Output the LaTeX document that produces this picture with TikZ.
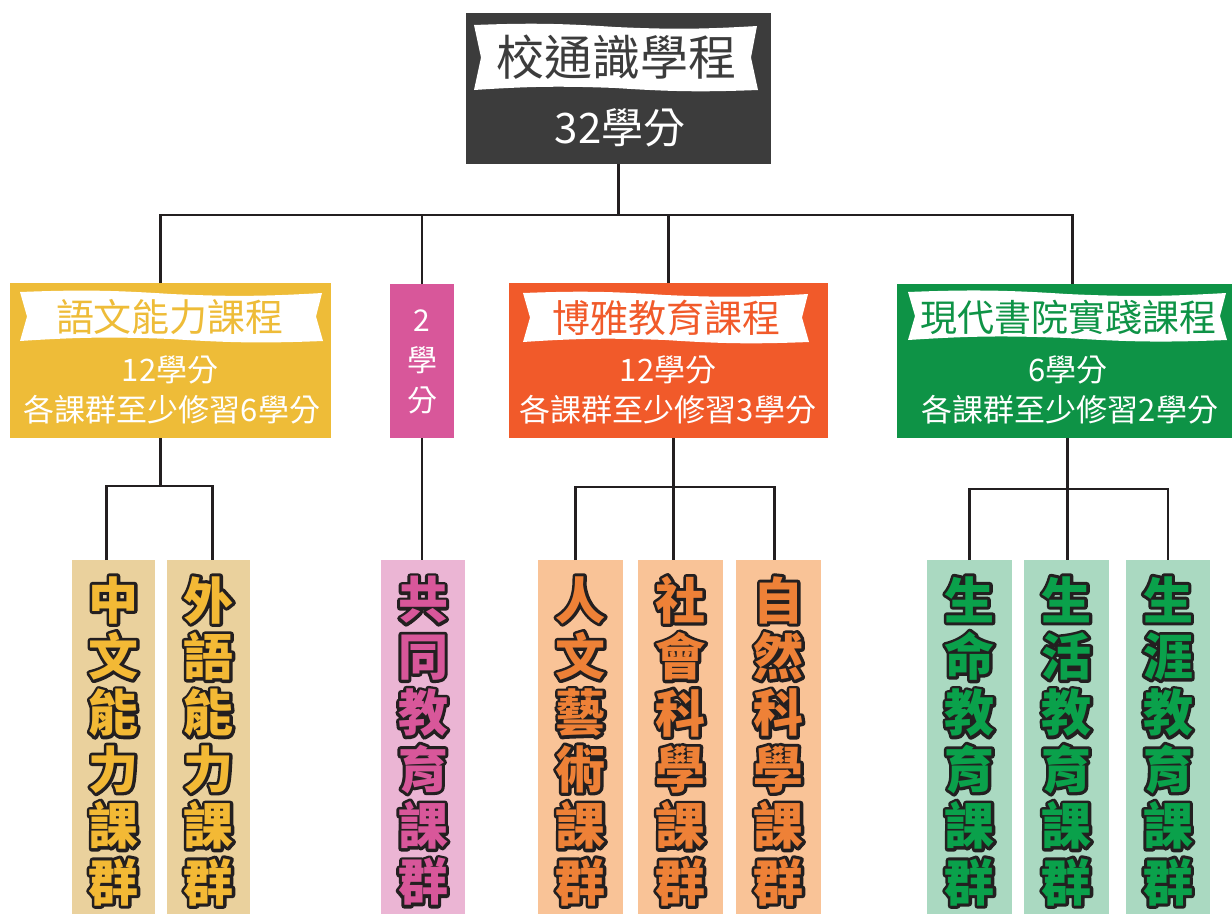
\documentclass[tikz,border=0pt]{standalone}
\usepackage{fontspec}
\setmainfont{Noto Sans CJK TC}
\usetikzlibrary{calc}
\definecolor{dk}{HTML}{231F20}
\definecolor{topgray}{HTML}{3C3C3C}
\definecolor{cy}{HTML}{EEBC38}
\definecolor{cp}{HTML}{D8579A}
\definecolor{co}{HTML}{F15A2A}
\definecolor{cg}{HTML}{0E9346}
\definecolor{ly}{HTML}{EAD19D}
\definecolor{lp}{HTML}{EBB5D4}
\definecolor{lo}{HTML}{F9C397}
\definecolor{lg}{HTML}{AAD9C1}
\definecolor{ty}{HTML}{F3B935}
\definecolor{tp}{HTML}{D8579A}
\definecolor{to}{HTML}{EE8137}
\definecolor{tg}{HTML}{0AA14B}
% outlined glyph: a stroked copy (text render mode 2) under the filled glyph
\newcommand\oc[1]{\rlap{\special{pdf:literal direct 2 Tr 6 w 1 j 1 J 0.137 0.122 0.125 RG}#1\special{pdf:literal direct 0 Tr 1 w}}#1}
\newcommand\ribbon[4]{%
  \pgfmathsetmacro\rbx{(#1+#3)/2}%
  \pgfmathsetmacro\rby{(#2+#4)/2}%
  \fill[white] (#1,#2) to[bend left=3] (\rbx,#2+2) to[bend right=3] (#3,#2+1)
    -- (#3-6,\rby) -- (#3+1,#4) to[bend left=3] (\rbx,#4-2) to[bend right=3] (#1,#4)
    -- (#1+7,\rby) -- cycle;}
\tikzset{
  box/.style={rectangle, inner sep=0pt, outer sep=0pt, draw=none},
  conn/.style={draw=dk, line width=2.6pt},
  lbl/.style={inner sep=0pt, text=white, font=\fontsize{31}{31}\selectfont},
  ttl/.style={inner sep=0pt, font=\fontsize{38}{38}\selectfont},
  vtxt/.style={inner sep=0pt, align=center, font=\fontsize{50}{56.4}\selectfont\bfseries},
  leaf/.style={box, minimum width=84pt, minimum height=354pt}
}
\begin{document}
\begin{tikzpicture}[x=1pt, y=-1pt]
\useasboundingbox (0,0) rectangle (1232,914);
% top
\node[box, fill=topgray, minimum width=305pt, minimum height=151pt] (top) at (618.5,88.5) {};
\ribbon{474}{25}{757}{90}
\node[ttl, text=topgray, font=\fontsize{48}{48}\selectfont] (toptitle) at (616,57) {校通識學程};
\node[lbl, font=\fontsize{42}{42}\selectfont] (topcred) at (620,128) {32學分};
% level 2
\node[box, fill=cy, minimum width=321pt, minimum height=155pt] (yel) at (170.5,360.5) {};
\ribbon{20}{292}{322}{341}
\node[ttl, text=cy] (yeltitle) at (170,317) {語文能力課程};
\node[lbl] (yelc1) at (170,370) {12學分};
\node[lbl] (yelc2) at (172,410) {各課群至少修習6學分};

\node[box, fill=cp, minimum width=64pt, minimum height=154pt] (pink) at (422,361) {};
\node[lbl, align=center, font=\fontsize{30}{40}\selectfont] (pinkc) at (422,362) {2\\學\\分};

\node[box, fill=co, minimum width=319pt, minimum height=155pt] (org) at (668.5,360.5) {};
\ribbon{523}{293}{808}{342}
\node[ttl, text=co] (orgtitle) at (666,318) {博雅教育課程};
\node[lbl] (orgc1) at (668,370) {12學分};
\node[lbl] (orgc2) at (668,410) {各課群至少修習3學分};

\node[box, fill=cg, minimum width=335pt, minimum height=154pt] (grn) at (1064.5,361) {};
\ribbon{908}{292}{1226}{340}
\node[ttl, text=cg, font=\fontsize{37}{37}\selectfont] (grntitle) at (1068,317) {現代書院實踐課程};
\node[lbl] (grnc1) at (1068,370) {6學分};
\node[lbl] (grnc2) at (1070,410) {各課群至少修習2學分};

% leaves
\node[leaf, fill=ly, minimum width=83pt] (zw) at (113.5,737) {};
\node[leaf, fill=ly, minimum width=83pt] (wy) at (208.5,737) {};
\node[leaf, fill=lp] (gt) at (423,737) {};
\node[leaf, fill=lo, minimum width=85pt] (rw) at (580.5,737) {};
\node[leaf, fill=lo, minimum width=85pt] (sh) at (680.5,737) {};
\node[leaf, fill=lo, minimum width=85pt] (zr) at (778.5,737) {};
\node[leaf, fill=lg, minimum width=85pt] (sm) at (969.5,737) {};
\node[leaf, fill=lg, minimum width=85pt] (sho) at (1066.5,737) {};
\node[leaf, fill=lg, minimum width=84pt] (sy) at (1168,737) {};

\node[vtxt, text=ty] (zwt) at (113.5,741) {\oc{中}\\\oc{文}\\\oc{能}\\\oc{力}\\\oc{課}\\\oc{群}};
\node[vtxt, text=ty] (wyt) at (208.5,741) {\oc{外}\\\oc{語}\\\oc{能}\\\oc{力}\\\oc{課}\\\oc{群}};
\node[vtxt, text=tp] (gtt) at (423,741) {\oc{共}\\\oc{同}\\\oc{教}\\\oc{育}\\\oc{課}\\\oc{群}};
\node[vtxt, text=to] (rwt) at (580.5,741) {\oc{人}\\\oc{文}\\\oc{藝}\\\oc{術}\\\oc{課}\\\oc{群}};
\node[vtxt, text=to] (sht) at (680.5,741) {\oc{社}\\\oc{會}\\\oc{科}\\\oc{學}\\\oc{課}\\\oc{群}};
\node[vtxt, text=to] (zrt) at (778.5,741) {\oc{自}\\\oc{然}\\\oc{科}\\\oc{學}\\\oc{課}\\\oc{群}};
\node[vtxt, text=tg] (smt) at (969.5,741) {\oc{生}\\\oc{命}\\\oc{教}\\\oc{育}\\\oc{課}\\\oc{群}};
\node[vtxt, text=tg] (shot) at (1066.5,741) {\oc{生}\\\oc{活}\\\oc{教}\\\oc{育}\\\oc{課}\\\oc{群}};
\node[vtxt, text=tg] (syt) at (1168,741) {\oc{生}\\\oc{涯}\\\oc{教}\\\oc{育}\\\oc{課}\\\oc{群}};

% connectors
\draw[conn] (top.south) -- ++(0,51) coordinate (tb);
\draw[conn] ($(yel.north)+(-10,0)$) |- ($(grn.north |- tb)+(8,0)$) -- ($(grn.north)+(8,0)$);
\draw[conn] (pink.north) -- (pink.north |- tb);
\draw[conn] (org.north) -- (org.north |- tb);

\draw[conn] ($(yel.south)+(-10,0)$) -- ++(0,48) coordinate (yb);
\draw[conn] ($(zw.north)+(-7,0)$) |- (yb) -| ($(wy.north)+(4,0)$);
\draw[conn] (pink.south) -- (pink.south |- gt.north);
\draw[conn] ($(org.south)+(5,0)$) -- ++(0,49) coordinate (ob);
\draw[conn] ($(rw.north)+(-5,0)$) |- (ob) -| ($(zr.north)+(-4,0)$);
\draw[conn] (ob) -- (ob |- sh.north);
\draw[conn] ($(grn.south)+(3,0)$) -- ++(0,51) coordinate (gb);
\draw[conn] (sm.north) |- (gb) -| (sy.north);
\draw[conn] (gb) -- (gb |- sho.north);
\end{tikzpicture}
\end{document}
